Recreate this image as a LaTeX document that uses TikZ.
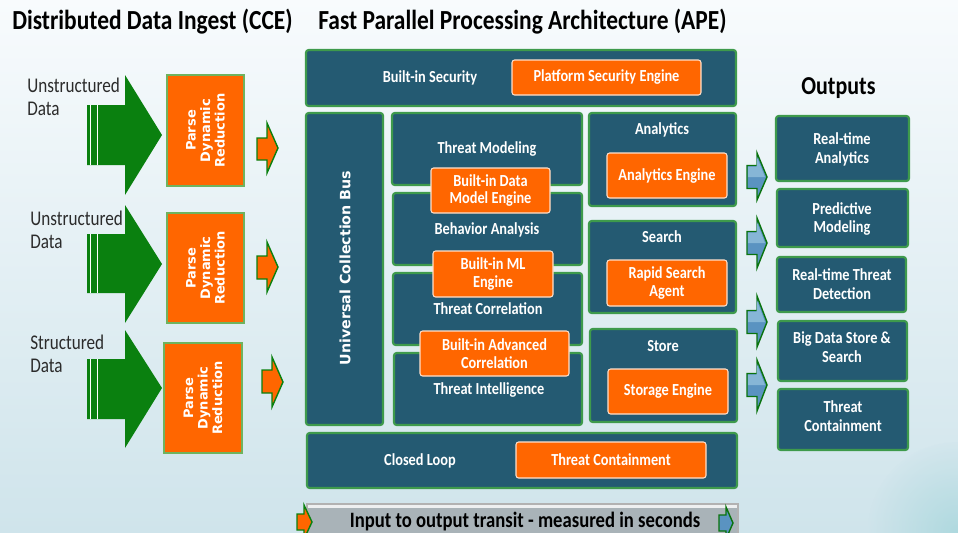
\documentclass[tikz,border=0pt]{standalone}
\usepackage{fontspec}
\setmainfont{Carlito}
\newfontfamily\cf{Carlito}[FakeStretch=0.85]
\newfontfamily\cfl{Carlito}[FakeStretch=0.82]
\newfontfamily\dvs{DejaVu Sans}
\usetikzlibrary{fit}
\definecolor{bgtop}{HTML}{F8FBFD}
\definecolor{bgmid}{HTML}{EEF6F9}
\definecolor{bgbot}{HTML}{CFE4EB}
\definecolor{tealc}{HTML}{245A72}
\definecolor{bgreen}{HTML}{3E9A4C}
\definecolor{orng}{HTML}{FF6600}
\definecolor{agreen}{HTML}{0A800F}
\definecolor{lgreen}{HTML}{6FB35E}
\definecolor{ablue}{HTML}{5A93C1}
\definecolor{ablueh}{HTML}{86B6D6}
\definecolor{bargray}{HTML}{A9B3B8}
\definecolor{lbltxt}{HTML}{2B2B2B}
\begin{document}
\begin{tikzpicture}[x=0.02cm,y=-0.02cm,
  darkbox/.style={draw=bgreen, line width=1.2pt, fill=tealc, rounded corners=1.5pt, inner sep=0pt},
  orbox/.style={draw=white!80!orng, line width=0.6pt, fill=orng, rounded corners=1.5pt, inner sep=0pt},
  ortxt/.style={text=white, font=\cf\bfseries\fontsize{9.6}{10.2}\selectfont, align=center, inner sep=0pt},
  parsebox/.style={draw=lgreen, line width=1.4pt, fill=orng, inner sep=0pt},
  lbl/.style={text=white, font=\cf\bfseries\fontsize{9.6}{10.8}\selectfont, align=center, inner sep=0pt},
  parsetxt/.style={text=white, font=\dvs\bfseries\fontsize{7.4}{8.3}\selectfont, align=center, rotate=90, inner sep=0pt},
  title/.style={font=\cf\bfseries\fontsize{15.7}{18}\selectfont, text=black, inner sep=0pt},
  srclbl/.style={font=\cfl\fontsize{11.9}{13}\selectfont, text=lbltxt, align=left, inner sep=0pt},
  bigarrow/.style={fill=agreen},
  smallor/.style={fill=orng, draw=agreen, line width=0.8pt, line join=miter},
  bluearr/.style={fill=ablue, draw=agreen!90!black, line width=0.8pt, line join=miter}
]
\clip (0,0) rectangle (958,532);
\shade[top color=bgtop, middle color=bgmid, bottom color=bgbot] (0,0) rectangle (958,532);
\shade[inner color=bgbot!80!cyan!60!teal, outer color=bgbot, opacity=0.3] (958,532) circle (90);

% titles
\node[title, anchor=base west] (t1) at (12,29) {Distributed Data Ingest (CCE)};
\node[title, anchor=base west] (t2) at (318,29) {Fast Parallel Processing Architecture (APE)};
\node[title, anchor=base west, font=\cf\bfseries\fontsize{14.7}{16}\selectfont] (t3) at (801,94) {Outputs};

% source labels
\node[srclbl, anchor=west] (s1) at (27,97) {Unstructured\\Data};
\node[srclbl, anchor=west] (s2) at (30,230) {Unstructured\\Data};
\node[srclbl, anchor=west] (s3) at (30,354) {Structured\\Data};

% big green arrows
\foreach \yt/\yb/\yc/\ht/\hb in {105/165/135/75/195, 234/293/264/205/323, 359/419/388/330/448}{
  \fill[bigarrow] (87,\yt) -- (125,\yt) -- (125,\ht) -- (162,\yc) -- (125,\hb) -- (125,\yb) -- (87,\yb) -- cycle;
  \fill[white] (89.7,\yt) rectangle (90.8,\yb);
  \fill[white] (96.8,\yt) rectangle (97.9,\yb);
}

% parse boxes
\node[parsebox, fit={(167,75)(244,186)}] (p1) {};
\node[parsebox, fit={(167,213)(244,323)}] (p2) {};
\node[parsebox, fit={(164,343)(242,453)}] (p3) {};
\node[parsetxt] (p1t) at (p1.center) {Parse\\Dynamic\\Reduction};
\node[parsetxt] (p2t) at (p2.center) {Parse\\Dynamic\\Reduction};
\node[parsetxt] (p3t) at (p3.center) {Parse\\Dynamic\\Reduction};

% small orange arrows
\draw[smallor] (257,138) -- (267,138) -- (267,123) -- (278,148) -- (267,173) -- (267,160) -- (257,160) -- cycle;
\draw[smallor] (257,256) -- (267,256) -- (267,242) -- (278,267) -- (267,292) -- (267,279) -- (257,279) -- cycle;
\draw[smallor] (262,370) -- (272,370) -- (272,357) -- (283,382) -- (272,407) -- (272,393) -- (262,393) -- cycle;

% APE blocks
\node[darkbox, fit={(306,50)(736,106)}] (sec) {};
\node[lbl] (sect) at (430,78) {Built-in Security};
\node[orbox, fit={(512,60)(701,95)}] (pse) {};
\node[ortxt] (pset) at (pse.center) {Platform Security Engine};

\node[darkbox, fit={(306,113)(383,425)}] (bus) {};
\node[parsetxt, font=\dvs\bfseries\fontsize{8.1}{9}\selectfont] (bust) at (345,268) {Universal Collection Bus};

\node[darkbox, fit={(392,113)(582,185)}] (tm) {};
\node[lbl] (tmt) at (487,149) {Threat Modeling};
\node[darkbox, fit={(393,193)(582,265)}] (ba) {};
\node[lbl] (bat) at (487,230) {Behavior Analysis};
\node[darkbox, fit={(393,273)(582,345)}] (tc) {};
\node[lbl] (tct) at (488,309) {Threat Correlation};
\node[darkbox, fit={(394,353)(582,425)}] (ti) {};
\node[lbl] (tit) at (489,390) {Threat Intelligence};

\node[orbox, fit={(431,168)(550,213)}] (dme) {};
\node[ortxt] (dmet) at (dme.center) {Built-in Data\\Model Engine};
\node[orbox, fit={(433,251)(553,297)}] (mle) {};
\node[ortxt] (mlet) at (mle.center) {Built-in ML\\Engine};
\node[orbox, fit={(420,331)(569,376)}] (ace) {};
\node[ortxt] (acet) at (ace.center) {Built-in Advanced\\Correlation};

\node[darkbox, fit={(589,113)(736,206)}] (an) {};
\node[lbl] (ant) at (662,130) {Analytics};
\node[orbox, fit={(607,153)(727,198)}] (ane) {};
\node[ortxt] (anet) at (ane.center) {Analytics Engine};
\node[darkbox, fit={(589,221)(736,313)}] (se) {};
\node[lbl] (set) at (662,237) {Search};
\node[orbox, fit={(607,260)(727,306)}] (rsa) {};
\node[ortxt] (rsat) at (rsa.center) {Rapid Search\\Agent};
\node[darkbox, fit={(590,329)(737,422)}] (st) {};
\node[lbl] (stt) at (663,346) {Store};
\node[orbox, fit={(608,369)(728,414)}] (ste) {};
\node[ortxt] (stet) at (ste.center) {Storage Engine};

\node[darkbox, fit={(307,433)(737,488)}] (cl) {};
\node[lbl] (clt) at (420,461) {Closed Loop};
\node[orbox, fit={(516,442)(706,478)}] (tce) {};
\node[ortxt] (tcet) at (tce.center) {Threat Containment};

% blue arrows
\foreach \yc/\ht/\hb in {177/153/200, 243/218/268, 322/296/347, 385/360/411}{
  \draw[bluearr] (747,\yc-11.5) -- (757,\yc-11.5) -- (757,\ht) -- (767,\yc) -- (757,\hb) -- (757,\yc+11.5) -- (747,\yc+11.5) -- cycle;
  \fill[ablueh] (748,\yc-10.5) -- (756.5,\yc-10.5) -- (756.5,\ht+3) -- (765,\yc) -- (756.5,\yc) -- (748,\yc) -- cycle;
}

% outputs
\node[darkbox, fit={(776,116)(909,181)}] (o1) {};
\node[lbl] (o1t) at (842,149) {Real-time\\Analytics};
\node[darkbox, fit={(777,189)(908,247)}] (o2) {};
\node[lbl] (o2t) at (842,219) {Predictive\\Modeling};
\node[darkbox, fit={(777,257)(906,312)}] (o3) {};
\node[lbl] (o3t) at (842,284) {Real-time Threat\\Detection};
\node[darkbox, fit={(778,321)(907,381)}] (o4) {};
\node[lbl] (o4t) at (842,347) {Big Data Store \&\\Search};
\node[darkbox, fit={(778,389)(908,450)}] (o5) {};
\node[lbl] (o5t) at (843,416) {Threat\\Containment};

% bottom bar
\node[fill=bargray, draw=gray!60, line width=0.6pt, inner sep=0pt, fit={(307,504)(738,545)}] (bar) {};
\draw[white!80!bargray, line width=1.2pt] (308,506.5) -- (737,506.5);
\node[font=\cf\bfseries\fontsize{12.5}{14}\selectfont, text=black, anchor=base, inner sep=0pt] (bart) at (525,527) {Input to output transit - measured in seconds};
\draw[smallor] (297,514) -- (304,514) -- (304,505) -- (312,522) -- (304,539) -- (304,530) -- (297,530) -- cycle;
\draw[bluearr] (719,515) -- (726,515) -- (726,507) -- (733,523) -- (726,539) -- (726,531) -- (719,531) -- cycle;
\end{tikzpicture}
\end{document}
